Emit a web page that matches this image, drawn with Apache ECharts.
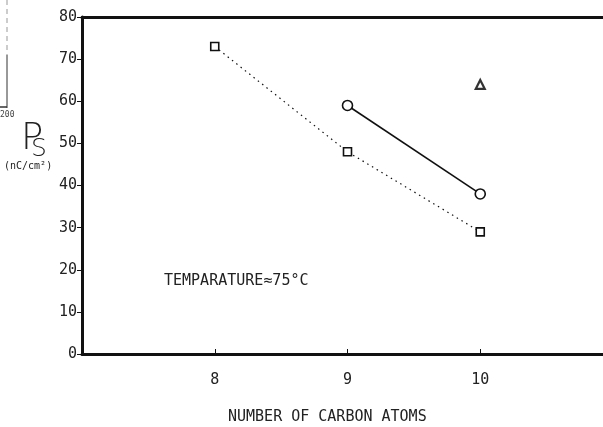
<!DOCTYPE html>
<html>
<head>
<meta charset="utf-8">
<script src="https://cdn.jsdelivr.net/npm/echarts@6/dist/echarts.min.js"></script>
<style>
html, body { margin: 0; padding: 0; background: #fff; }
#chart { width: 603px; height: 427px; }
</style>
</head>
<body>
<div id="chart"></div>
<script>
// data
var squareData = [[8, 73], [9, 48], [10, 29]];
var circleData = [[9, 59], [10, 38]];
var triangleData = [[10, 64]];
var yTicks = [0, 10, 20, 30, 40, 50, 60, 70, 80];
var xTickLabels = [8, 9, 10];

var ink = '#111';
var mono = '"DejaVu Sans Mono", monospace';

var chart = echarts.init(document.getElementById('chart'));

var option = {
	animation: false,
	backgroundColor: '#fff',
	grid: { left: 82, top: 17, right: -10, bottom: 73, outerBoundsMode: 'none' },
	xAxis: [{
		type: 'value',
		min: 7, max: 11, interval: 1,
		axisLine: { lineStyle: { color: ink, width: 3 } },
		axisTick: { inside: true, length: 5, lineStyle: { color: ink, width: 1 } },
		axisLabel: {
			margin: 19, color: '#222', fontFamily: mono, fontSize: 15,
			formatter: function(v) { return xTickLabels.indexOf(v) >= 0 ? String(v) : ''; }
		},
		splitLine: { show: false }
	}, {
		// top border
		type: 'value', position: 'top',
		min: 7, max: 11,
		axisLine: { show: true, lineStyle: { color: ink, width: 3 } },
		axisTick: { show: false }, axisLabel: { show: false }, splitLine: { show: false }
	}],
	yAxis: {
		type: 'value',
		min: yTicks[0], max: yTicks[yTicks.length - 1], interval: 10,
		axisLine: { show: true, lineStyle: { color: ink, width: 3 } },
		axisTick: { show: true, length: 5, lineStyle: { color: ink, width: 1 } },
		axisLabel: { margin: 5, color: '#222', fontFamily: mono, fontSize: 15 },
		splitLine: { show: false }
	},
	series: [{
		type: 'line',
		data: squareData,
		symbol: 'rect', symbolSize: 8,
		lineStyle: { color: ink, width: 1.2, type: [1.5, 4] },
		itemStyle: { color: '#fff', borderColor: ink, borderWidth: 1.6 },
		z: 3
	}, {
		type: 'line',
		data: circleData,
		symbol: 'circle', symbolSize: 10,
		lineStyle: { color: ink, width: 1.6 },
		itemStyle: { color: '#fff', borderColor: ink, borderWidth: 1.6 },
		z: 3
	}, {
		type: 'scatter',
		data: triangleData,
		symbol: 'triangle', symbolSize: 9,
		itemStyle: { color: '#fff', borderColor: '#000', borderWidth: 2.2 },
		z: 3
	}],
	graphic: [
		// axis title
		{ type: 'text', left: 21, top: 121,
			style: { text: 'P', font: '200 37px "DejaVu Sans"', fill: '#222' } },
		{ type: 'text', left: 31, top: 137,
			style: { text: 'S', font: '200 25px "DejaVu Sans"', fill: '#222' } },
		{ type: 'text', left: 4, top: 161,
			style: { text: '(nC/cm²)', font: '10px ' + mono, fill: '#222' } },
		// annotation
		{ type: 'text', left: 164, top: 274,
			style: { text: 'TEMPARATURE≈75°C', font: '15px ' + mono, fill: '#222' } },
		// x axis name
		{ type: 'text', left: 228, top: 410,
			style: { text: 'NUMBER OF CARBON ATOMS', font: '15px ' + mono, fill: '#222' } },
		// fragment of neighbouring figure at left edge
		{ type: 'line', shape: { x1: 7, y1: 0, x2: 7, y2: 55 },
			style: { stroke: '#999', lineWidth: 1, lineDash: [5, 4] } },
		{ type: 'line', shape: { x1: 7, y1: 55, x2: 7, y2: 108 },
			style: { stroke: '#333', lineWidth: 1 } },
		{ type: 'line', shape: { x1: 0, y1: 107, x2: 7, y2: 107 },
			style: { stroke: '#333', lineWidth: 1.5 } },
		{ type: 'text', left: 0, top: 111,
			style: { text: '200', font: '8px ' + mono, fill: '#444' } }
	]
};

chart.setOption(option);
</script>
</body>
</html>
